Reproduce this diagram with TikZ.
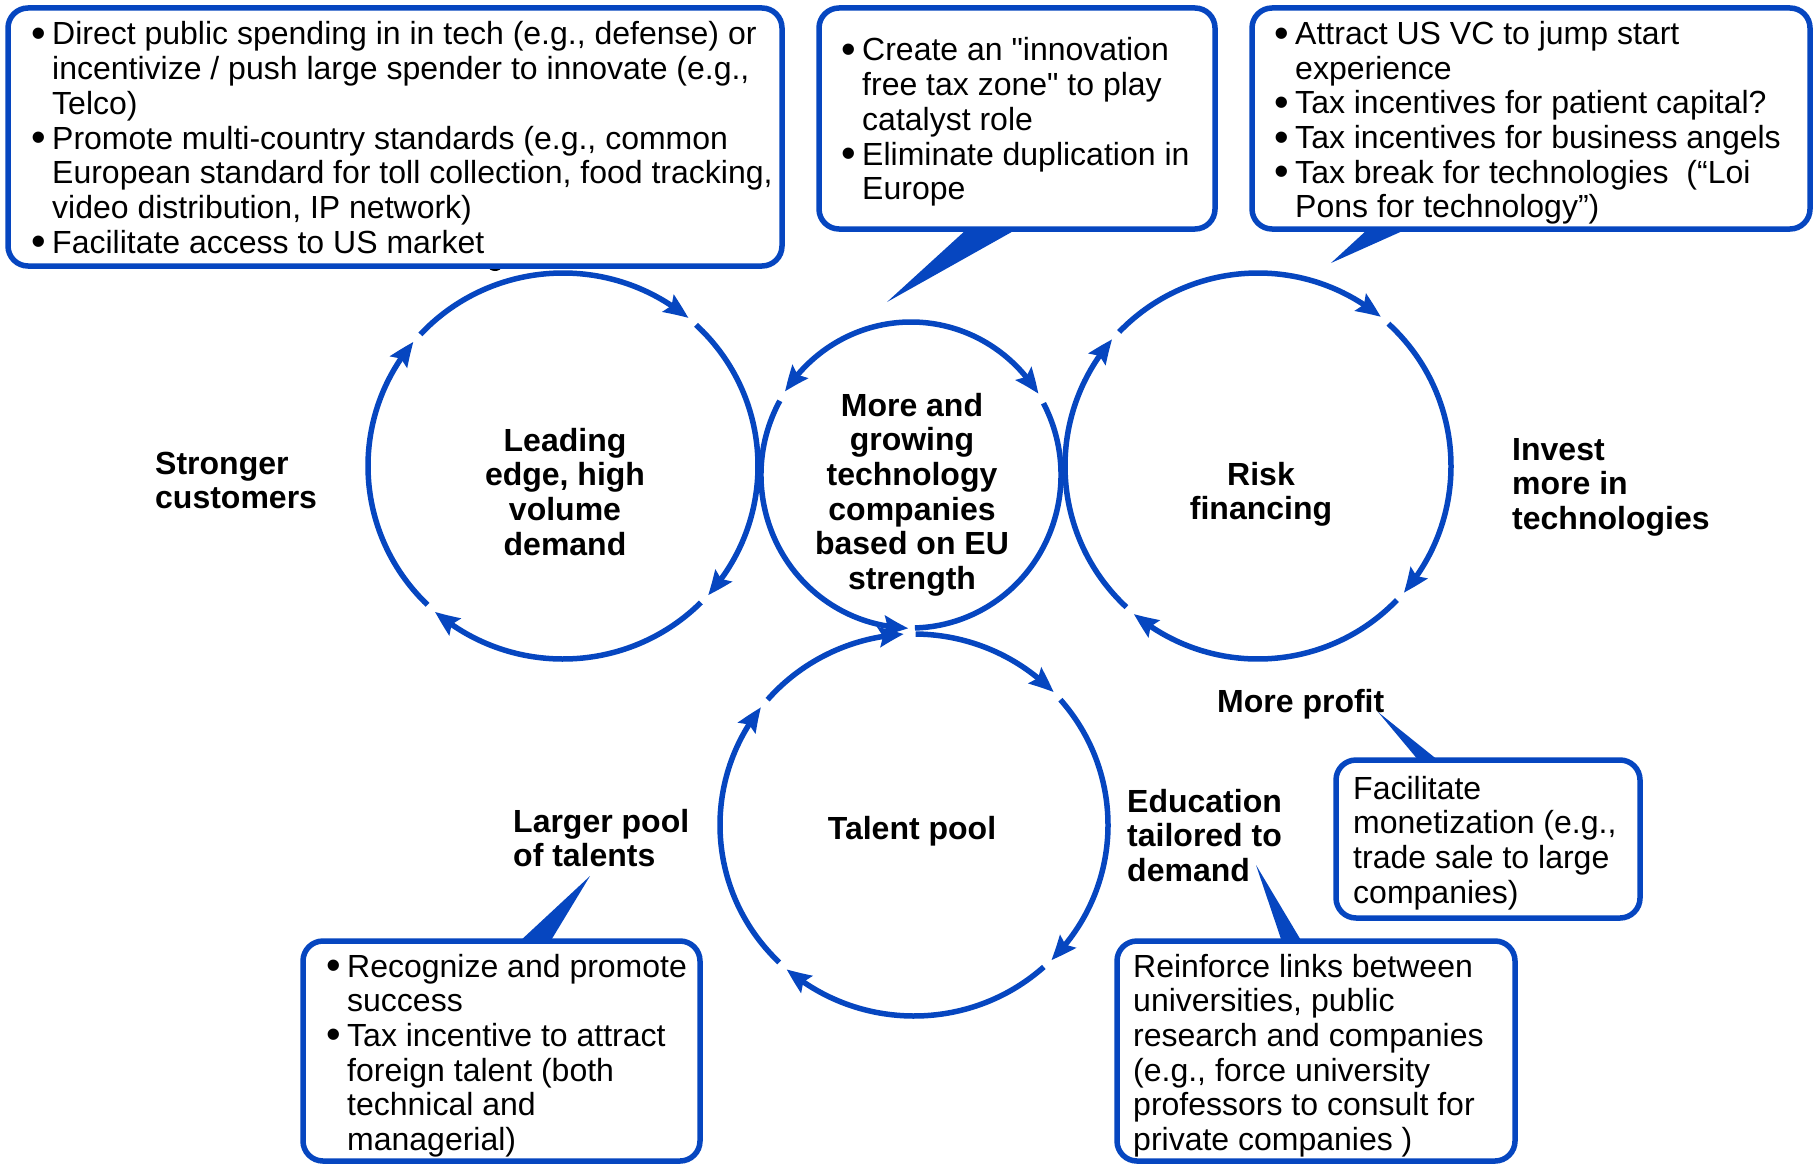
\documentclass[tikz,border=0pt]{standalone}
\usepackage{fontspec}
\setmainfont{Liberation Sans}
\usetikzlibrary{arrows.meta,bending}
\definecolor{bblue}{RGB}{6,70,192}
\newcommand{\bigbul}{\smash{\raisebox{-0.08em}{\scalebox{1.3}{\textbullet}}}}
\newcommand{\bitem}[1]{\par\noindent\hangindent=21pt\hangafter=1\makebox[21pt][l]{\bigbul}#1\par}
\newcommand{\ltext}[1]{\parbox[t]{900pt}{\setlength{\parindent}{0pt}\setlength{\parskip}{0pt}#1}}
\newcommand{\ctext}[1]{\parbox[t]{400pt}{\centering #1}}
\newcommand{\ringarc}[6]{\draw[ring,#1] (#2) ++(#5:#3 and #4) arc[start angle=#5, end angle=#6, x radius=#3, y radius=#4];}
\begin{document}
\begin{tikzpicture}[x=1pt,y=-1pt,
  ring/.style={draw=bblue,line width=5.5pt},
  arr/.style={-{Stealth[length=25pt,width=20pt,inset=4pt,bend]}},
  callout/.style={draw=bblue,line width=5.5pt,fill=white,rounded corners=20pt},
  tail/.style={fill=bblue},
  txt/.style={inner sep=0pt,anchor=base west,font=\fontsize{32}{34.7}\selectfont},
  lbl/.style={inner sep=0pt,anchor=base west,font=\fontsize{32}{34.7}\selectfont\bfseries},
  clbl/.style={inner sep=0pt,anchor=base,font=\fontsize{32}{34.7}\selectfont\bfseries},
]
\useasboundingbox (0,0) rectangle (1814,1164);
\fill[white] (0,0) rectangle (1814,1164);

% small hidden glyph fragment below the first box
\fill[black] (495,266) ellipse[x radius=7, y radius=5];

% callout boxes
\draw[callout] (8,8) rectangle (782,266);
\draw[callout] (819,8) rectangle (1215,229);
\draw[callout] (1252,8) rectangle (1810,229);
\draw[callout] (1336,760) rectangle (1640,918);
\draw[callout] (303,941) rectangle (700,1161);
\draw[callout] (1117,941) rectangle (1515,1161);

% callout tails
\coordinate (tmA) at (967,229); \coordinate (tmB) at (1017,229); \coordinate (tmT) at (887,302);
\fill[tail] (tmA) -- (tmT) -- (tmB) -- cycle;
\coordinate (trA) at (1368,229); \coordinate (trB) at (1407,229); \coordinate (trT) at (1331,263);
\fill[tail] (trA) -- (trT) -- (trB) -- cycle;
\coordinate (mrA) at (1419,761); \coordinate (mrB) at (1439,761); \coordinate (mrT) at (1378,712);
\fill[tail] (mrA) -- (mrT) -- (mrB) -- cycle;
\coordinate (blA) at (519,942); \coordinate (blB) at (550,942); \coordinate (blT) at (590,876);
\fill[tail] (blA) -- (blT) -- (blB) -- cycle;
\coordinate (brA) at (1282,942); \coordinate (brB) at (1302,942); \coordinate (brT) at (1256,865);
\fill[tail] (brA) -- (brT) -- (brB) -- cycle;

% circle centres
\coordinate (cL) at (563,466);
\coordinate (cM) at (911,475);
\coordinate (cR) at (1258,466);
\coordinate (cB) at (914,825);

% left circle
\ringarc{arr}{cL}{195}{193}{-137}{-50}
\ringarc{arr}{cL}{195}{193}{-47}{42}
\ringarc{arr}{cL}{195}{193}{45}{131}
\ringarc{arr}{cL}{195}{193}{134}{220}
% right circle
\ringarc{arr}{cR}{193}{193}{-136}{-50.5}
\ringarc{arr}{cR}{193}{193}{-47.5}{41}
\ringarc{arr}{cR}{193}{193}{44}{130}
\ringarc{arr}{cR}{193}{193}{133}{221}
% middle circle
\ringarc{arr}{cM}{150}{153}{-90}{-147}
\ringarc{arr}{cM}{150}{153}{-90}{-32}
\ringarc{arr}{cM}{150}{153}{-151}{-269}
\ringarc{}{cM}{150}{153}{-28}{88.5}
% bottom circle
\ringarc{arr}{cB}{194}{191}{-226}{-142}
\ringarc{arr}{cB}{194}{191}{-139}{-93}
\ringarc{arr}{cB}{194}{191}{-89.5}{-44}
\ringarc{arr}{cB}{194}{191}{-41}{45}
\ringarc{arr}{cB}{194}{191}{48}{131}

% box texts
\node[txt] (tTL) at (31,45) {\ltext{%
\bitem{Direct public spending in in tech (e.g., defense) or\\incentivize / push large spender to innovate (e.g.,\\Telco)}
\bitem{Promote multi-country standards (e.g., common\\European standard for toll collection, food tracking,\\video distribution, IP network)}
\bitem{Facilitate access to US market}}};
\node[txt] (tTM) at (841,61) {\ltext{%
\bitem{Create an \textquotedbl innovation\\free tax zone\textquotedbl\ to play\\catalyst role}
\bitem{Eliminate duplication in\\Europe}}};
\node[txt] (tTR) at (1274,44.5) {\ltext{%
\bitem{Attract US VC to jump start\\experience}
\bitem{Tax incentives for patient capital?}
\bitem{Tax incentives for business angels}
\bitem{Tax break for technologies\ \ (“Loi\\Pons for technology”)}}};
\node[txt] (tBL) at (326,977) {\ltext{%
\bitem{Recognize and promote\\success}
\bitem{Tax incentive to attract\\foreign talent (both\\technical and\\managerial)}}};
\node[txt] (tBR) at (1133,977) {\ltext{Reinforce links between\\universities, public\\research and companies\\(e.g., force university\\professors to consult for\\private companies )}};
\node[txt] (tMR) at (1353,799) {\ltext{Facilitate\\monetization (e.g.,\\trade sale to large\\companies)}};

% circle texts
\node[clbl] (nL) at (565,451) {\ctext{Leading\\edge, high\\volume\\demand}};
\node[clbl] (nM) at (912,416) {\ctext{More and\\growing\\technology\\companies\\based on EU\\strength}};
\node[clbl] (nR) at (1261,485) {\ctext{Risk\\financing}};
\node[clbl] (nB) at (912,839) {\ctext{Talent pool}};

% outer labels
\node[lbl] (lSC) at (155,474) {\ltext{Stronger\\customers}};
\node[lbl] (lIM) at (1512,460) {\ltext{Invest\\more in\\technologies}};
\node[lbl] (lMP) at (1217,712) {\ltext{More profit}};
\node[lbl] (lLP) at (513,832) {\ltext{Larger pool\\of talents}};
\node[lbl] (lED) at (1127,812) {\ltext{Education\\tailored to\\demand}};
\end{tikzpicture}
\end{document}
